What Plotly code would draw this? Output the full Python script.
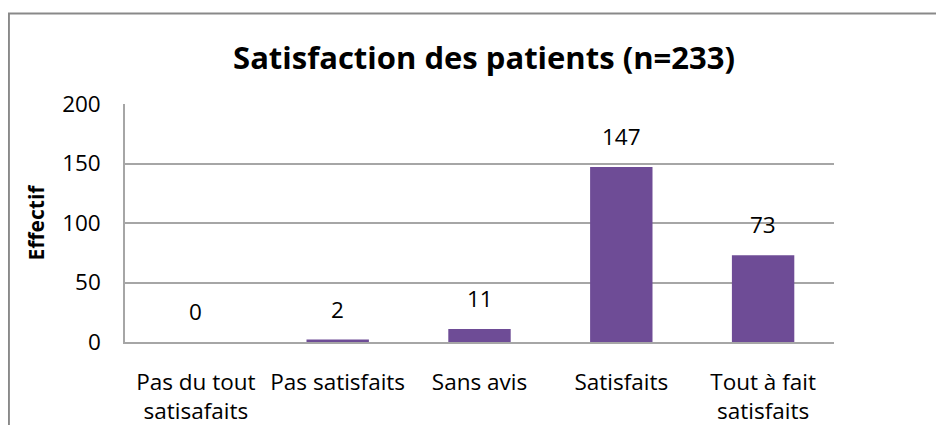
import plotly.graph_objects as go

categories = ["Pas du tout<br>satisafaits", "Pas satisfaits", "Sans avis", "Satisfaits", "Tout à fait<br>satisfaits"]
values = [0, 2, 11, 147, 73]
y_ticks = [0, 50, 100, 150, 200]

FONT = "Open Sans"
GRID = "#A6A6A6"
TS = 22.5

# the page body adds an 8px offset, so the figure is sized/positioned to compensate
OFF = 8
W, H = 944 - OFF, 425 - OFF
ML, MT = 125 - OFF, 104 - OFF
PW, PH = 709, 238

fig = go.Figure()
fig.add_trace(go.Bar(
    x=categories, y=values,
    marker=dict(color="#6E4C96", line=dict(width=0)),
    width=0.44,
    hoverinfo="x+y",
))

for c, v in zip(categories, values):
    fig.add_annotation(x=c, y=v, text=str(v), showarrow=False,
                       yanchor="bottom", yshift=13,
                       font=dict(family=FONT, size=TS, color="#000000"))

fig.update_layout(
    template="none",
    width=W, height=H,
    margin=dict(l=ML, r=W - ML - PW, t=MT, b=H - MT - PH, pad=0, autoexpand=False),
    paper_bgcolor="white", plot_bgcolor="white",
    showlegend=False,
    title=dict(text="<b>Satisfaction des patients (n=233)</b>",
               x=(484 - OFF) / W, xanchor="center", y=1 - (58 - OFF) / H, yanchor="middle",
               font=dict(family=FONT, size=31, color="#000000")),
    font=dict(family=FONT, size=TS, color="#000000"),
    xaxis=dict(automargin=False, showgrid=False, showline=True, linecolor=GRID, linewidth=1.5,
               ticks="", ticklabelstandoff=19, zeroline=False,
               tickfont=dict(family=FONT, size=TS)),
    yaxis=dict(automargin=False, range=[0, 200], tickvals=y_ticks, showgrid=True,
               gridcolor=GRID, gridwidth=1.5,
               showline=True, linecolor=GRID, linewidth=1.5, zeroline=False,
               ticks="", ticklabelstandoff=18,
               tickfont=dict(family=FONT, size=TS),
               title=dict(text="<b>Effectif</b>", standoff=12,
                          font=dict(family=FONT, size=21))),
    shapes=[dict(type="rect", xref="paper", yref="paper",
                 x0=(0.9 - ML) / PW, x1=2.0, y0=-2.0, y1=(MT + PH - 5.5) / PH,
                 line=dict(color="#898989", width=2), fillcolor="rgba(0,0,0,0)", layer="below")],
)

fig.write_html("out.html")
